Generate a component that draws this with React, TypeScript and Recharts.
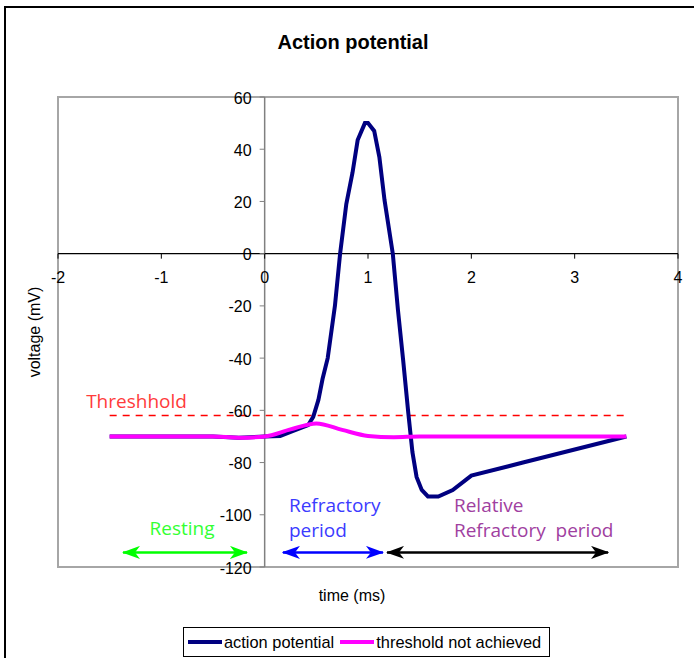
import {
  ComposedChart,
  Line,
  XAxis,
  YAxis,
  ReferenceLine,
  ReferenceArea,
  ReferenceDot,
  Legend,
} from "recharts";

// action potential trace (ms, mV)
const AP_TIME = [
  -1.5, -1, -0.5, -0.25, 0, 0.15, 0.27, 0.42, 0.47, 0.52, 0.56, 0.61, 0.68, 0.73, 0.79, 0.85, 0.9,
  0.97, 1.0, 1.06, 1.11, 1.16, 1.24, 1.29, 1.34, 1.39, 1.43, 1.47, 1.52, 1.58, 1.68, 1.82, 2.0, 2.5,
  3.0, 3.5,
];
const AP_MV = [
  -70, -70, -70, -70.5, -70, -69.8, -68, -65.7, -62.5, -56, -48, -40, -20, 0, 19, 31, 43.5, 50, 50,
  47, 37, 20.5, 0, -21.6, -40.7, -61, -76, -85.5, -90.5, -93, -93, -90.5, -85, -80, -75, -70,
];

// sub-threshold stimulus trace
const SUB_TIME = [-1.5, -1, -0.5, -0.25, 0, 0.25, 0.5, 0.75, 1.0, 1.25, 1.5, 2, 2.5, 3, 3.5];
const SUB_MV = [-70, -70, -70, -70.5, -70, -67.3, -65, -67.5, -69.8, -70.3, -70, -70, -70, -70, -70];

const X_TICKS = [-2, -1, 0, 1, 2, 3, 4];
const Y_TICKS = [-120, -100, -80, -60, -40, -20, 0, 20, 40, 60];
const THRESHOLD_MV = -62;
const THRESHOLD_FROM = -1.5;
const THRESHOLD_TO = 3.5;

const X_MIN = -2;
const X_MAX = 4;
const Y_MIN = -120;
const Y_MAX = 60;

const apData = AP_TIME.map((t, i) => ({ t, v: AP_MV[i] }));
const subData = SUB_TIME.map((t, i) => ({ t, v: SUB_MV[i] }));

// layout
const PLOT_LEFT = 58;
const PLOT_TOP = 97;
const PLOT_RIGHT = 678;
const PLOT_BOTTOM = 567;
const ZERO_X = PLOT_LEFT + ((PLOT_RIGHT - PLOT_LEFT) * (0 - X_MIN)) / (X_MAX - X_MIN);
const ZERO_Y = PLOT_TOP + ((PLOT_BOTTOM - PLOT_TOP) * (Y_MAX - 0)) / (Y_MAX - Y_MIN);

const FONT = "'Liberation Sans', Arial, sans-serif";
const NOTE_FONT = "'Open Sans', 'Noto Sans', sans-serif";

function XTick({ x, payload }: any) {
  return (
    <g>
      <line x1={x} x2={x} y1={ZERO_Y} y2={ZERO_Y + 5} stroke="#000" />
      <text
        x={x}
        y={ZERO_Y + 24}
        textAnchor="middle"
        dominantBaseline="central"
        fontSize={16}
        fontFamily={FONT}
        fill="#000"
      >
        {payload.value}
      </text>
    </g>
  );
}

function YTick({ y, payload }: any) {
  return (
    <g>
      <line x1={ZERO_X - 5} x2={ZERO_X} y1={y} y2={y} stroke="#808080" />
      <text
        x={ZERO_X - 13}
        y={y + 1}
        textAnchor="end"
        dominantBaseline="central"
        fontSize={16}
        fontFamily={FONT}
        fill="#000"
      >
        {payload.value}
      </text>
    </g>
  );
}

function LegendBox({ payload }: any) {
  return (
    <div
      style={{
        display: "flex",
        alignItems: "center",
        border: "1px solid #000",
        height: 30,
        boxSizing: "border-box",
        padding: "0 8px 0 4px",
        fontFamily: FONT,
        fontSize: 16.4,
        background: "#fff",
        whiteSpace: "nowrap",
      }}
    >
      {(payload || []).map((item: any, i: number) => (
        <span key={i} style={{ display: "flex", alignItems: "center", marginLeft: i ? 6 : 0 }}>
          <span
            style={{ display: "inline-block", width: 34, height: 4, background: item.color, marginRight: 2 }}
          />
          <span>{item.value}</span>
        </span>
      ))}
    </div>
  );
}

const arrow = (color: string, id: string) => (p: any) => (
  <line
    x1={p.x1}
    y1={p.y1}
    x2={p.x2}
    y2={p.y2}
    stroke={color}
    strokeWidth={2.5}
    markerStart={`url(#${id})`}
    markerEnd={`url(#${id})`}
  />
);

const note = (lines: string[], color: string, anchor: "start" | "middle") => ({ viewBox }: any) => (
  <text
    x={viewBox.x}
    y={viewBox.y}
    textAnchor={anchor}
    fontSize={19}
    fontFamily={NOTE_FONT}
    fill={color}
    style={{ whiteSpace: "pre" }}
  >
    {lines.map((l, i) => (
      <tspan key={i} x={viewBox.x} dy={i === 0 ? 6 : 25}>
        {l}
      </tspan>
    ))}
  </text>
);

function marker(id: string, color: string) {
  return (
    <marker
      id={id}
      viewBox="0 0 18 13"
      refX={17}
      refY={6.5}
      markerWidth={18}
      markerHeight={13}
      markerUnits="userSpaceOnUse"
      orient="auto-start-reverse"
    >
      <path d="M0,0 L18,6.5 L0,13 L5,6.5 Z" fill={color} />
    </marker>
  );
}

export default function App() {
  return (
    <div
      style={{
        position: "fixed",
        left: 0,
        top: 0,
        width: 694,
        height: 658,
        overflow: "hidden",
        background: "#fff",
      }}
    >
      <div
        style={{
          position: "absolute",
          left: 4,
          top: 6,
          width: 800,
          height: 800,
          borderLeft: "2px solid #000",
          borderTop: "2px solid #000",
        }}
      />
      <ComposedChart
        width={694}
        height={658}
        margin={{ top: PLOT_TOP, right: 694 - PLOT_RIGHT, bottom: 2, left: 0 }}
      >
        <defs>
          {marker("ah-green", "#00ff00")}
          {marker("ah-blue", "#0000ff")}
          {marker("ah-black", "#000000")}
        </defs>
        <XAxis
          type="number"
          dataKey="t"
          domain={[X_MIN, X_MAX]}
          ticks={X_TICKS}
          allowDataOverflow
          axisLine={false}
          tickLine={false}
          height={59}
          tick={<XTick />}
          label={{
            content: ({ viewBox }: any) => (
              <text
                x={(viewBox?.x ?? PLOT_LEFT) + (viewBox?.width ?? 620) / 2 - 16}
                y={(viewBox?.y ?? PLOT_BOTTOM) + 28}
                textAnchor="middle"
                dominantBaseline="central"
                fontSize={16}
                fontFamily={FONT}
              >
                time (ms)
              </text>
            ),
          }}
        />
        <YAxis
          type="number"
          domain={[Y_MIN, Y_MAX]}
          ticks={Y_TICKS}
          allowDataOverflow
          axisLine={false}
          tickLine={false}
          width={PLOT_LEFT}
          tick={<YTick />}
          label={{
            content: () => (
              <text
                x={34}
                y={(PLOT_TOP + PLOT_BOTTOM) / 2}
                transform={`rotate(-90 34 ${(PLOT_TOP + PLOT_BOTTOM) / 2})`}
                textAnchor="middle"
                dominantBaseline="central"
                fontSize={16}
                fontFamily={FONT}
              >
                voltage (mV)
              </text>
            ),
          }}
        />
        <ReferenceArea
          x1={X_MIN}
          x2={X_MAX}
          y1={Y_MIN}
          y2={Y_MAX}
          fill="none"
          fillOpacity={0}
          stroke="#a6a6a6"
          strokeWidth={2}
        />
        <ReferenceLine x={0} stroke="#808080" strokeWidth={1.5} />
        <ReferenceLine y={0} stroke="#000" strokeWidth={1.2} />
        <ReferenceLine
          segment={[
            { x: THRESHOLD_FROM, y: THRESHOLD_MV },
            { x: THRESHOLD_TO, y: THRESHOLD_MV },
          ]}
          stroke="#ff0000"
          strokeDasharray="7 6"
          strokeWidth={1.6}
        />
        <ReferenceLine
          segment={[
            { x: -1.371, y: -114.4 },
            { x: -0.171, y: -114.4 },
          ]}
          shape={arrow("#00ff00", "ah-green")}
        />
        <ReferenceLine
          segment={[
            { x: 0.177, y: -114.4 },
            { x: 1.145, y: -114.4 },
          ]}
          shape={arrow("#0000ff", "ah-blue")}
        />
        <ReferenceLine
          segment={[
            { x: 1.184, y: -114.4 },
            { x: 3.323, y: -114.4 },
          ]}
          shape={arrow("#000000", "ah-black")}
        />
        <ReferenceDot x={-1.24} y={-56.8} r={0} fill="none" stroke="none" label={{ content: note(["Threshhold"], "#ff3b3b", "middle") }} />
        <ReferenceDot x={-0.8} y={-105.4} r={0} fill="none" stroke="none" label={{ content: note(["Resting"], "#33ff33", "middle") }} />
        <ReferenceDot
          x={0.235}
          y={-96.8}
          r={0}
          fill="none"
          stroke="none"
          label={{ content: note(["Refractory", "period"], "#3b3bff", "start") }}
        />
        <ReferenceDot
          x={1.832}
          y={-96.8}
          r={0}
          fill="none"
          stroke="none"
          label={{ content: note(["Relative", "Refractory  period"], "#a040a0", "start") }}
        />
        <Line
          data={apData}
          dataKey="v"
          name="action potential"
          type="linear"
          stroke="#000080"
          strokeWidth={4}
          dot={false}
          activeDot={false}
          isAnimationActive={false}
        />
        <Line
          data={subData}
          dataKey="v"
          name="threshold not achieved"
          type="monotone"
          stroke="#ff00ff"
          strokeWidth={4}
          dot={false}
          activeDot={false}
          isAnimationActive={false}
        />
        <Legend content={<LegendBox />} wrapperStyle={{ left: 183, width: "auto", bottom: 1 }} />
      </ComposedChart>
      <div
        style={{
          position: "absolute",
          left: 203,
          width: 300,
          top: 30,
          textAlign: "center",
          fontFamily: FONT,
          fontWeight: "bold",
          fontSize: 20,
          lineHeight: "24px",
        }}
      >
        Action potential
      </div>
    </div>
  );
}
